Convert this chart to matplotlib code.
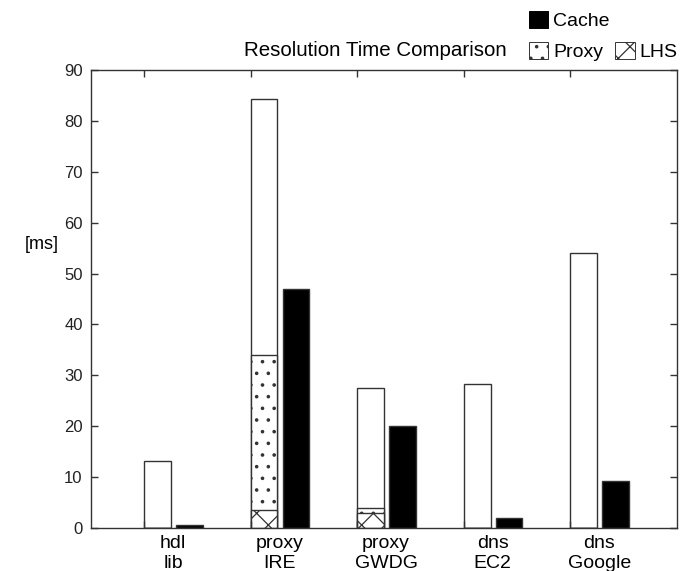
import numpy as np
import matplotlib
matplotlib.use("Agg")
import matplotlib.pyplot as plt
from matplotlib.patches import Patch

plt.rcParams['font.family'] = ['Liberation Sans', 'DejaVu Sans']

# data
groups = ["hdl\nlib", "proxy\nIRE", "proxy\nGWDG", "dns\nEC2", "dns\nGoogle"]
total = [13.2, 84.3, 27.5, 28.3, 54.0]      # white bars
proxy = [0, 34.0, 4.0, 0, 0]                 # dotted part
lhs = [0, 3.5, 3.0, 0, 0]                    # crossed part
cache = [0.5, 47.0, 20.0, 2.0, 9.2]          # black bars

ind = np.arange(len(groups))
w = 0.25

# low dpi so the hatch pattern is as sparse as in the original; S rescales points
DPI = 70
S = 100 / DPI
plt.rcParams['hatch.linewidth'] = 0.9 * S

fig = plt.figure(figsize=(685 / DPI, 571 / DPI), dpi=DPI)
ax = fig.add_axes([0.1328, 0.0753, 0.8555, 0.8021])

ec = '#333333'
lw = 1 * S
ax.bar(ind, total, w, align='edge', color='white', edgecolor=ec, linewidth=lw)
ax.bar(ind, proxy, w, align='edge', color='white', edgecolor=ec, linewidth=lw, hatch='.')
ax.bar(ind, lhs, w, align='edge', color='white', edgecolor=ec, linewidth=lw, hatch='x')
ax.bar(ind + 0.3, cache, w, align='edge', color='black', edgecolor=ec, linewidth=lw)

ax.set_xlim(-0.5, 5)
ax.set_ylim(0, 90)
ax.set_yticks(range(0, 91, 10))
ax.set_xticks(ind)
ax.set_xticklabels([])
ax.set_xticks(ind + 0.27, minor=True)
ax.set_xticklabels(groups, minor=True, fontsize=14 * S)
ax.tick_params(axis='x', which='minor', length=0, pad=5 * S)
ax.tick_params(which='major', direction='in', top=True, right=True,
               length=5 * S, width=lw, color=ec)
ax.tick_params(axis='y', labelsize=12 * S, pad=6 * S, labelcolor='#222222')
for s in ax.spines.values():
    s.set_color(ec)
    s.set_linewidth(lw)

ax.set_ylabel('[ms]', rotation=0, fontsize=13 * S, va='center')
ax.yaxis.set_label_coords(-0.084, 0.618)

fig.text(375 / 685, 1 - 50 / 571, 'Resolution Time Comparison', fontsize=14.8 * S,
         ha='center', va='center')

h_cache = Patch(facecolor='black', edgecolor='black', label='Cache')
h_proxy = Patch(facecolor='white', edgecolor=ec, hatch='.', label='Proxy')
h_blank = Patch(facecolor='none', edgecolor='none', label=' ')
h_lhs = Patch(facecolor='white', edgecolor=ec, hatch='x', label='LHS')
fig.legend(handles=[h_cache, h_proxy, h_blank, h_lhs], ncol=2, frameon=False,
           loc='upper left', bbox_to_anchor=(515 / 685, 1.005), fontsize=14 * S,
           handlelength=1.0, handleheight=1.0, handletextpad=0.25,
           columnspacing=0.3, labelspacing=0.6, borderpad=0.2)

fig.savefig('out.png', dpi=DPI)
